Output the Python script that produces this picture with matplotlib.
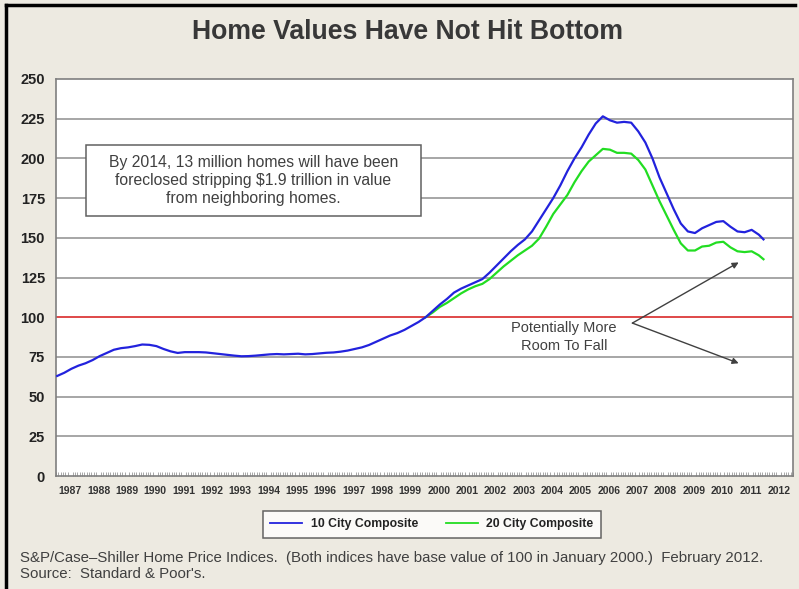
import matplotlib
matplotlib.use("Agg")
import matplotlib.pyplot as plt
import numpy as np
from matplotlib.lines import Line2D
from matplotlib.patches import Rectangle
from matplotlib.ticker import FixedLocator, MultipleLocator

plt.rcParams['font.family'] = ['Liberation Sans', 'DejaVu Sans']

# ---- data (quarterly readings: Jan, Apr, Jul, Oct; final point = Dec 2011) ----
years = list(range(1987, 2013))
year_labels = [str(y) for y in years]

city10 = [
    63.0, 65.0, 67.5, 69.5,      # 1987
    71.0, 73.0, 75.5, 77.5,      # 1988
    79.5, 80.5, 81.0, 81.8,      # 1989
    82.8, 82.6, 81.8, 80.0,      # 1990
    78.5, 77.5, 78.0, 78.0,      # 1991
    78.0, 77.8, 77.3, 76.8,      # 1992
    76.3, 75.8, 75.4, 75.5,      # 1993
    75.8, 76.2, 76.6, 76.8,      # 1994
    76.6, 76.8, 77.0, 76.6,      # 1995
    76.8, 77.2, 77.6, 77.8,      # 1996
    78.3, 79.0, 80.0, 81.0,      # 1997
    82.5, 84.5, 86.5, 88.5,      # 1998
    90.0, 92.0, 94.5, 97.0,      # 1999
    100.0, 104.0, 108.0, 111.5,  # 2000
    115.5, 118.0, 120.0, 122.0,  # 2001
    124.0, 128.0, 132.5, 137.0,  # 2002
    141.5, 145.5, 149.0, 154.0,  # 2003
    161.0, 168.0, 175.0, 183.0,  # 2004
    192.0, 200.0, 207.0, 215.0,  # 2005
    222.0, 226.5, 224.0, 222.5,  # 2006
    223.0, 222.5, 217.0, 210.0,  # 2007
    200.0, 188.0, 178.0, 168.0,  # 2008
    159.0, 154.0, 153.0, 156.0,  # 2009
    158.0, 160.0, 160.5, 157.0,  # 2010
    154.0, 153.5, 155.0, 152.0,  # 2011
    149.0,                       # Dec 2011
]

city20 = [
    100.0, 103.0, 106.5, 109.0,  # 2000
    112.0, 115.0, 117.5, 119.5,  # 2001
    121.0, 124.0, 128.0, 132.0,  # 2002
    135.5, 139.0, 142.0, 145.0,  # 2003
    149.5, 157.0, 165.0, 171.0,  # 2004
    177.0, 185.0, 192.0, 198.0,  # 2005
    202.0, 206.0, 205.5, 203.5,  # 2006
    203.5, 203.0, 199.0, 193.0,  # 2007
    183.0, 173.0, 164.0, 155.0,  # 2008
    146.5, 142.0, 142.0, 144.5,  # 2009
    145.0, 147.0, 147.5, 144.0,  # 2010
    141.5, 141.0, 141.5, 139.0,  # 2011
    136.5,                       # Dec 2011
]

note_text = ("By 2014, 13 million homes will have been\n"
             "foreclosed stripping $1.9 trillion in value\n"
             "from neighboring homes.")
arrow_text = "Potentially More\nRoom To Fall"
footnote = ("S&P/Case\u2013Shiller Home Price Indices.  (Both indices have base value of 100 in January 2000.)  February 2012.\n"
            "Source:  Standard & Poor's.")

# month index positions (category centres)
def month_positions(start_year, n):
    pos = [(start_year - 1987) * 12 + 3 * i + 0.5 for i in range(n - 1)]
    pos.append((2011 - 1987) * 12 + 11 + 0.5)
    return pos

x10 = month_positions(1987, len(city10))
x20 = month_positions(2000, len(city20))

bg = '#EDEAE1'
fig = plt.figure(figsize=(7.99, 5.89), dpi=100, facecolor=bg)
ax = fig.add_axes([56/799, 1 - 476/589, (793 - 56)/799, (476 - 79)/589])
ax.set_facecolor('white')

ax.set_xlim(0, 312)
ax.set_ylim(0, 250)

for v in range(25, 250, 25):
    ax.axhline(v, color='#A6A6A6', lw=1.4, zorder=1)
ax.axhline(100, color='#F03030', lw=1.1, zorder=2)

ax.plot(x20, city20, color='#22DD22', lw=1.6, zorder=3)
ax.plot(x10, city10, color='#2222DD', lw=1.6, zorder=4)

ax.yaxis.set_major_locator(MultipleLocator(25))
ax.tick_params(axis='y', length=0, pad=8, labelsize=10.5, labelcolor='#222222')
for t in ax.get_yticklabels():
    t.set_fontweight('bold')

ax.xaxis.set_major_locator(FixedLocator([6 + 12 * i for i in range(len(years))]))
ax.set_xticklabels(year_labels, fontsize=7.5, fontweight='bold', color='#333333')
ax.tick_params(axis='x', length=0, pad=7)
ax.xaxis.set_minor_locator(FixedLocator(np.arange(0, 313, 1)))
ax.tick_params(axis='x', which='minor', direction='in', length=3, color='#999999', width=0.6)

for s in ax.spines.values():
    s.set_color('#7F7F7F')
    s.set_linewidth(1.2)

# note box
ax.add_patch(Rectangle((12.7, 163.7), 141.8, 44.7, fc='white', ec='#606060', lw=1.1, zorder=5))
ax.text(83.6, 186.2, note_text, ha='center', va='center', fontsize=11.3, color='#404040',
        linespacing=1.25, zorder=6)

# arrows
ax.text(215, 87.5, arrow_text, ha='center', va='center', fontsize=10.5, color='#404040',
        linespacing=1.35, zorder=6)
for ty in (134.5, 71.0):
    ax.annotate('', xy=(289, ty), xytext=(244, 96.3),
                arrowprops=dict(arrowstyle='-|>', color='#404040', lw=1.0,
                                mutation_scale=9, shrinkA=0, shrinkB=0), zorder=6)

# title
fig.text(408/799, 1 - 32/589, "Home Values Have Not Hit Bottom", ha='center', va='center',
         fontsize=19.2, fontweight='bold', color='#383838')

# legend
handles = [Line2D([0], [0], color='#2222DD', lw=1.3),
           Line2D([0], [0], color='#22DD22', lw=1.3)]
leg = fig.legend(handles, ['10 City Composite', '20 City Composite'],
                 loc='center', bbox_to_anchor=(432/799, 1 - 524.5/589), ncol=2,
                 fontsize=8.8, frameon=True, fancybox=False, edgecolor='#404040',
                 facecolor='white', handlelength=2.6, columnspacing=2.3,
                 borderpad=0.6, handletextpad=0.7)
leg.get_frame().set_linewidth(1.1)
for t in leg.get_texts():
    t.set_fontweight('bold')
    t.set_color('#222222')

# footnote
fig.text(20/799, 1 - 566/589, footnote, ha='left', va='center', fontsize=10.8,
         color='#404040', linespacing=1.2)

# outer black frame (top and left)
fig.add_artist(Line2D([6/799, 6/799], [0, 1 - 5/589], color='black', lw=2.5,
                      transform=fig.transFigure))
fig.add_artist(Line2D([6/799, 795/799], [1 - 5/589, 1 - 5/589], color='black', lw=2.5,
                      transform=fig.transFigure))

fig.savefig('out.png', dpi=100, facecolor=bg)
